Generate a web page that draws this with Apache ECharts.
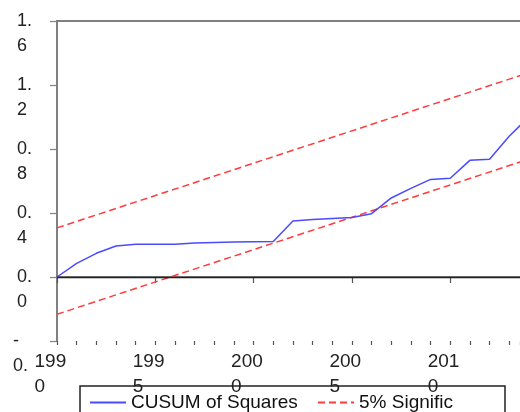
<!DOCTYPE html>
<html>
<head>
<meta charset="utf-8">
<script src="https://cdn.jsdelivr.net/npm/echarts@6/dist/echarts.min.js"></script>
<style>html,body{margin:0;padding:0;background:#fff;}#c{width:520px;height:412px;}</style>
</head>
<body>
<div id="c"></div>
<script>
// ---- data ----
const years = [1990,1991,1992,1993,1994,1995,1996,1997,1998,1999,2000,2001,2002,2003,2004,2005,2006,2007,2008,2009,2010,2011,2012,2013,2014];
const cusumSq = [0.000,0.085,0.148,0.194,0.204,0.204,0.204,0.213,0.216,0.218,0.220,0.222,0.350,0.359,0.366,0.372,0.396,0.494,0.554,0.610,0.617,0.729,0.736,0.880,1.000];
const boundYears = [1990, 2014];
const upperBound = [0.307, 1.277];
const lowerBound = [-0.233, 0.737];
const yTicks = [-0.4, 0.0, 0.4, 0.8, 1.2, 1.6];
// tick labels as they appear (wrapped; the bottom one is cut in the reference)
const yTickLabels = [['-', '0.'], ['0.', '0'], ['0.', '4'], ['0.', '8'], ['1.', '2'], ['1.', '6']];
const xTicks = [1990, 1995, 2000, 2005, 2010];
const xTickLabels = [['199', '0'], ['199', '5'], ['200', '0'], ['200', '5'], ['201', '0']];
const xMin = 1990, xMax = 2013.55;   // visible window (plot is cut by the right edge)
const seriesNames = ['CUSUM of Squares', '5% Signific'];

const FONT = "'Liberation Sans', Arial, sans-serif";

const chart = echarts.init(document.getElementById('c'), null, {renderer: 'canvas'});
const legendCommon = {padding: 0, itemWidth: 36, itemHeight: 14, itemGap: 0, top: 393,
  itemStyle: {opacity: 0}, textStyle: {fontSize: 19, fontFamily: FONT, color: '#111'}};
const yRichBase = {fontSize: 18, fontFamily: FONT, color: '#222', align: 'left'};
const option = {
  animation: false,
  backgroundColor: '#fff',
  textStyle: {fontFamily: FONT},
  grid: {left: 57, top: 21, right: 0, bottom: 71, show: false, outerBoundsMode: 'none', containLabel: false},
  xAxis: [
    {
      type: 'value', min: xMin, max: xMax, interval: 5, position: 'bottom',
      axisLine: {show: true, lineStyle: {color: '#555', width: 1.5}},
      axisTick: {show: true, length: 6, lineStyle: {color: '#555', width: 1.2}},
      splitLine: {show: false},
      axisLabel: {
        margin: 8, color: '#222', fontSize: 19, fontFamily: FONT, lineHeight: 25,
        showMinLabel: true, showMaxLabel: false, hideOverlap: false,
        formatter: function (v) {
          const i = xTicks.indexOf(v);
          return i >= 0 ? xTickLabels[i].map(s => '{a|' + s + '}').join('\n') : '';
        },
        rich: {a: {width: 45, align: 'left', fontSize: 19, lineHeight: 25, fontFamily: FONT, color: '#222'}}
      }
    },
    {
      type: 'value', min: xMin, max: xMax, interval: 1, position: 'bottom',
      axisLine: {show: false},
      axisTick: {show: true, length: 4, lineStyle: {color: '#555', width: 1.2}},
      axisLabel: {show: false}, splitLine: {show: false}
    },
    {
      type: 'value', min: xMin, max: xMax, position: 'top',
      axisLine: {show: true, lineStyle: {color: '#808080', width: 2}},
      axisTick: {show: false}, axisLabel: {show: false}, splitLine: {show: false}
    }
  ],
  yAxis: {
    type: 'value', min: -0.4, max: 1.6, interval: 0.4,
    axisLine: {show: true, lineStyle: {color: '#808080', width: 2}},
    axisTick: {show: true, length: 7, lineStyle: {color: '#808080', width: 1.2}},
    splitLine: {show: false},
    axisLabel: {
      align: 'right', verticalAlign: 'top', margin: 10,
      showMinLabel: true, showMaxLabel: true, hideOverlap: false,
      formatter: function (v) {
        let idx = -1;
        yTicks.forEach((t, i) => { if (Math.abs(t - v) < 1e-6) idx = i; });
        if (idx < 0) return '';
        const neg = yTicks[idx] < 0;
        return yTickLabels[idx].map((s, j) => '{' + (neg ? 'n' : 'p') + (j === 0 ? 'f' : 's') + '|' + s + '}').join('\n');
      },
      rich: {
        pf: Object.assign({width: 30, lineHeight: 1}, yRichBase),
        ps: Object.assign({width: 30, lineHeight: 49}, yRichBase),
        nf: Object.assign({width: 34, lineHeight: 1}, yRichBase),
        ns: Object.assign({width: 34, lineHeight: 49}, yRichBase)
      }
    }
  },
  legend: [
    Object.assign({data: [seriesNames[0]], left: 89}, legendCommon),
    Object.assign({data: [seriesNames[1]], left: 317}, legendCommon)
  ],
  graphic: [{
    type: 'rect', silent: true, z: 100,
    shape: {x: 80, y: 386, width: 425, height: 40},
    style: {fill: 'none', stroke: '#222', lineWidth: 1.5}
  }],
  series: [
    {
      name: seriesNames[0], type: 'line', showSymbol: false, symbol: 'none', xAxisIndex: 0,
      data: years.map((y, i) => [y, cusumSq[i]]),
      lineStyle: {color: '#4a4aff', width: 1.5}, itemStyle: {color: '#4a4aff'}, z: 3,
      markLine: {silent: true, symbol: 'none', label: {show: false},
        lineStyle: {color: '#222', width: 1.3, type: 'solid'}, data: [{yAxis: 0}]}
    },
    {
      name: seriesNames[1], type: 'line', showSymbol: false, symbol: 'none', xAxisIndex: 0,
      data: boundYears.map((y, i) => [y, upperBound[i]]),
      lineStyle: {color: '#ff3b3b', width: 1.5, type: [7, 4]}, itemStyle: {color: '#ff3b3b'}, z: 2
    },
    {
      name: seriesNames[1], type: 'line', showSymbol: false, symbol: 'none', xAxisIndex: 0,
      data: boundYears.map((y, i) => [y, lowerBound[i]]),
      lineStyle: {color: '#ff3b3b', width: 1.5, type: [7, 4]}, itemStyle: {color: '#ff3b3b'}, z: 2
    }
  ]
};
chart.setOption(option);
</script>
</body>
</html>
